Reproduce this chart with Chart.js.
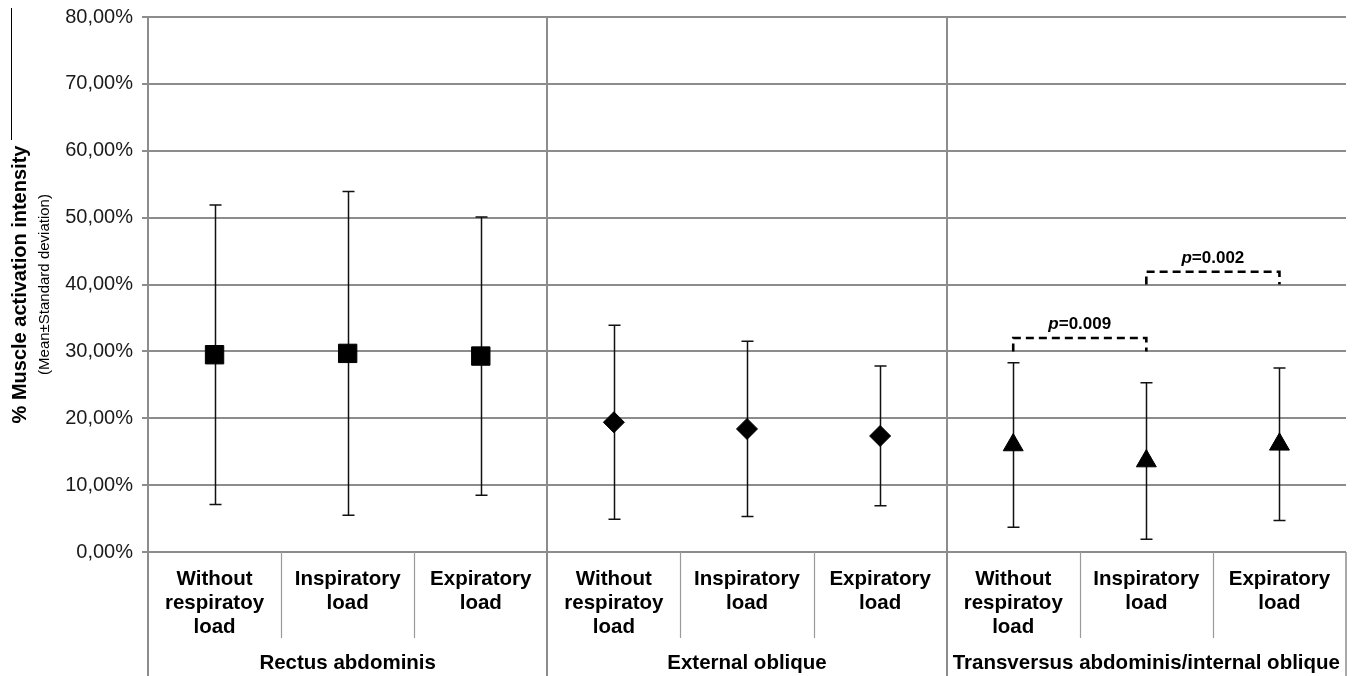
<!DOCTYPE html>
<html>
<head>
<meta charset="utf-8">
<title>% Muscle activation intensity</title>
<script src="https://cdn.jsdelivr.net/npm/chart.js@4.4.1/dist/chart.umd.min.js"></script>
<style>
  html, body { margin: 0; padding: 0; background: #ffffff; }
  #wrap { width: 1360px; height: 676px; }
</style>
</head>
<body>
<div id="wrap"><canvas id="chart" width="1360" height="676"></canvas></div>
<script>
// Muscle groups and the three breathing conditions shown under each group
const muscleGroups = ['Rectus abdominis', 'External oblique', 'Transversus abdominis/internal oblique'];
const conditionLabels = [
  ['Without', 'respiratoy', 'load'],
  ['Inspiratory', 'load'],
  ['Expiratory', 'load']
];

// Mean activation (%) and standard deviation (%) per condition
const rectusMean = [29.5, 29.7, 29.3];
const rectusSD = [22.4, 24.2, 20.8];
const obliqueMean = [19.4, 18.4, 17.35];
const obliqueSD = [14.5, 13.1, 10.45];
const transversusMean = [16.0, 13.6, 16.1];
const transversusSD = [12.3, 11.7, 11.4];

// Y axis ticks (percent)
const yTicks = [0, 10, 20, 30, 40, 50, 60, 70, 80];

// Significant pairwise comparisons (category indices, bracket height, foot height, p value)
const compareFrom = [6, 7];
const compareTo = [7, 8];
const compareTop = [32.0, 41.9];
const compareFoot = [30.0, 40.0];
const compareP = ['0.009', '0.002'];

const groupMeans = [rectusMean, obliqueMean, transversusMean];
const groupSDs = [rectusSD, obliqueSD, transversusSD];
const groupStyles = ['rect', 'rectRot', 'triangle'];
const groupRadius = [13, 10.5, 11.5];

const FONT = "'Liberation Sans', Arial, Helvetica, sans-serif";
const GRID = '#8c8c8c';

function pointsFor(g) {
  return groupMeans[g].map((m, k) => ({ x: g * 3 + k, y: m, sd: groupSDs[g][k] }));
}

const datasets = [0, 1, 2].map(g => ({
  label: muscleGroups[g],
  data: pointsFor(g),
  pointStyle: groupStyles[g],
  pointRadius: groupRadius[g],
  pointHoverRadius: groupRadius[g],
  backgroundColor: '#000000',
  borderColor: '#000000',
  borderWidth: 1,
  showLine: false
}));

// Error bars, group dividers and significance brackets
const overlayPlugin = {
  id: 'overlay',
  beforeDatasetsDraw(chart) {
    const ctx = chart.ctx;
    const xs = chart.scales.x;
    const ys = chart.scales.y;
    const area = chart.chartArea;
    const H = chart.height;
    ctx.save();

    // group dividers, full height
    ctx.strokeStyle = GRID;
    ctx.lineWidth = 2;
    [-0.5, 2.5, 5.5].forEach(v => {
      const x = Math.round(xs.getPixelForValue(v));
      ctx.beginPath();
      ctx.moveTo(x, area.top - 1);
      ctx.lineTo(x, H);
      ctx.stroke();
    });
    // right edge of the category band
    ctx.lineWidth = 1.5;
    const xr = Math.round(xs.getPixelForValue(8.5));
    ctx.beginPath();
    ctx.moveTo(xr, area.bottom);
    ctx.lineTo(xr, H);
    ctx.stroke();
    // condition separators inside each group
    ctx.lineWidth = 1.2;
    ctx.strokeStyle = '#9a9a9a';
    [0.5, 1.5, 3.5, 4.5, 6.5, 7.5].forEach(v => {
      const x = Math.round(xs.getPixelForValue(v)) + 0.5;
      ctx.beginPath();
      ctx.moveTo(x, area.bottom);
      ctx.lineTo(x, area.bottom + 86);
      ctx.stroke();
    });

    // error bars (mean ± SD)
    ctx.strokeStyle = '#111111';
    ctx.lineWidth = 1.5;
    chart.data.datasets.forEach(ds => {
      ds.data.forEach(p => {
        const x = Math.round(xs.getPixelForValue(p.x)) + 0.5;
        const yHi = ys.getPixelForValue(p.y + p.sd);
        const yLo = ys.getPixelForValue(p.y - p.sd);
        ctx.beginPath();
        ctx.moveTo(x, yHi);
        ctx.lineTo(x, yLo);
        ctx.moveTo(x - 6, yHi);
        ctx.lineTo(x + 6, yHi);
        ctx.moveTo(x - 6, yLo);
        ctx.lineTo(x + 6, yLo);
        ctx.stroke();
      });
    });

    // significance brackets
    ctx.strokeStyle = '#000000';
    ctx.lineWidth = 2.6;
    ctx.setLineDash([8, 5]);
    compareFrom.forEach((a, i) => {
      const x1 = xs.getPixelForValue(a);
      const x2 = xs.getPixelForValue(compareTo[i]);
      const yt = ys.getPixelForValue(compareTop[i]);
      const yf = ys.getPixelForValue(compareFoot[i]);
      ctx.beginPath();
      ctx.moveTo(x1, yf);
      ctx.lineTo(x1, yt);
      ctx.lineTo(x2, yt);
      ctx.lineTo(x2, yf);
      ctx.stroke();
    });
    ctx.setLineDash([]);

    ctx.fillStyle = '#000000';
    ctx.textBaseline = 'alphabetic';
    ctx.textAlign = 'left';
    compareFrom.forEach((a, i) => {
      const xm = (xs.getPixelForValue(a) + xs.getPixelForValue(compareTo[i])) / 2;
      const yt = ys.getPixelForValue(compareTop[i]);
      const italic = 'italic bold 17px ' + FONT;
      const bold = 'bold 17px ' + FONT;
      const rest = '=' + compareP[i];
      ctx.font = italic;
      const wp = ctx.measureText('p').width;
      ctx.font = bold;
      const wr = ctx.measureText(rest).width;
      const x0 = xm - (wp + wr) / 2;
      const yb = yt - 9;
      ctx.font = italic;
      ctx.fillText('p', x0, yb);
      ctx.font = bold;
      ctx.fillText(rest, x0 + wp, yb);
    });
    ctx.restore();
  },
  afterDraw(chart) {
    const ctx = chart.ctx;
    const xs = chart.scales.x;
    const area = chart.chartArea;
    ctx.save();
    ctx.fillStyle = '#000000';
    ctx.textAlign = 'center';
    ctx.textBaseline = 'middle';

    // condition labels
    ctx.font = 'bold 20.5px ' + FONT;
    for (let g = 0; g < 3; g++) {
      for (let k = 0; k < 3; k++) {
        const x = xs.getPixelForValue(g * 3 + k);
        conditionLabels[k].forEach((line, j) => {
          ctx.fillText(line, x, area.bottom + 27 + j * 24);
        });
      }
      // muscle group label
      ctx.fillText(muscleGroups[g], xs.getPixelForValue(g * 3 + 1), area.bottom + 111);
    }

    // y axis title (two lines, rotated)
    const yMid = (area.top + area.bottom) / 2;
    ctx.save();
    ctx.translate(20, yMid);
    ctx.rotate(-Math.PI / 2);
    ctx.font = 'bold 20px ' + FONT;
    ctx.fillText('% Muscle activation intensity', 0, 0);
    ctx.font = '15px ' + FONT;
    ctx.fillText('(Mean\u00b1Standard deviation)', 0, 25);
    ctx.restore();

    // thin rule above the axis title
    ctx.strokeStyle = '#000000';
    ctx.lineWidth = 1;
    ctx.beginPath();
    ctx.moveTo(11.5, 8);
    ctx.lineTo(11.5, 140);
    ctx.stroke();
    ctx.restore();
  }
};

new Chart(document.getElementById('chart'), {
  type: 'scatter',
  data: { datasets: datasets },
  options: {
    responsive: false,
    devicePixelRatio: 1,
    animation: false,
    layout: { padding: { top: 17, right: 5, bottom: 124, left: 0 } },
    plugins: { legend: { display: false }, tooltip: { enabled: false } },
    scales: {
      x: {
        type: 'linear',
        min: -0.5,
        max: 8.5,
        display: false
      },
      y: {
        min: 0,
        max: 80,
        afterFit(scale) {
          scale.width = 148;
          scale.paddingTop = 0;
          scale.paddingBottom = 0;
        },
        afterBuildTicks(scale) { scale.ticks = yTicks.map(v => ({ value: v })); },
        border: { display: false },
        grid: {
          color: GRID,
          lineWidth: 2,
          tickLength: 6,
          tickColor: GRID,
          tickWidth: 2
        },
        ticks: {
          padding: 9,
          color: '#1a1a1a',
          font: { family: FONT, size: 20 },
          callback: v => v.toFixed(2).replace('.', ',') + '%'
        }
      }
    }
  },
  plugins: [overlayPlugin]
});
</script>
</body>
</html>
